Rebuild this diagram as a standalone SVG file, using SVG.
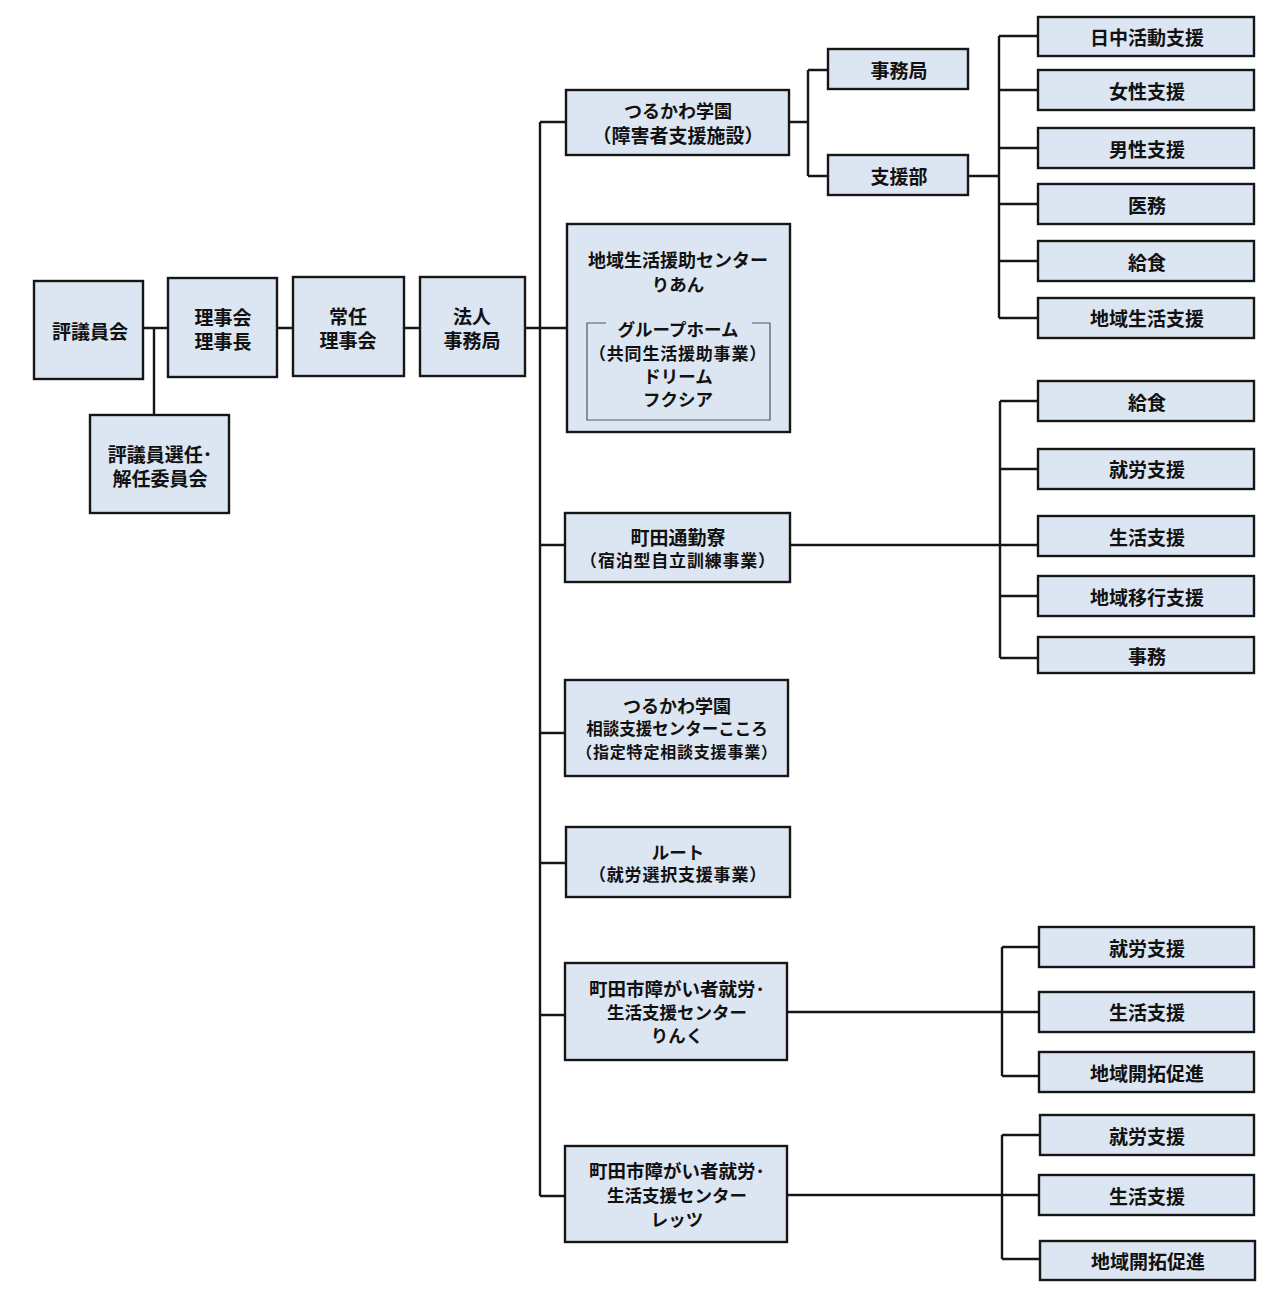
<svg xmlns="http://www.w3.org/2000/svg" width="1264" height="1306" viewBox="0 0 1264 1306">
<style>
.b{fill:#dce6f2;stroke:#161616;stroke-width:2.4}
.t{font-family:"Noto Sans CJK JP","Noto Sans CJK SC",sans-serif;font-weight:bold;font-size:19px;fill:#111;text-anchor:middle;dominant-baseline:central}
.k{font-size:17.5px}
.s{font-size:17px;letter-spacing:0.8px}
.c{fill:none;stroke:#161616;stroke-width:2.4}
.in{fill:none;stroke:#555;stroke-width:1.2}
</style>
<rect width="1264" height="1306" fill="#fff"/>
<g id="connectors">
<path class="c" d="M143 328H168M154 328V415M277 328H293M404 328H420M525 328H566"/>
<path class="c" d="M540 122V1196M540 122H566M540 545H565M540 733H565M540 863H566M540 1015H565M540 1196H565"/>
<path class="c" d="M789 122H808M808 70V176M808 70H828M808 176H828"/>
<path class="c" d="M968 176H999M999 36V318M999 36H1038M999 90H1038M999 148H1038M999 204H1038M999 261H1038M999 318H1038"/>
<path class="c" d="M790 545H1038M1000 401V658M1000 401H1038M1000 469H1038M1000 596H1038M1000 658H1038"/>
<path class="c" d="M787 1012H1039M1002 947V1076M1002 947H1039M1002 1076H1039"/>
<path class="c" d="M787 1195H1039M1002 1135V1259M1002 1135H1040M1002 1259H1040"/>
</g>
<g id="n_hyogiinkai"><rect class="b" x="34" y="281" width="109" height="98"/><text class="t" x="90" y="330">評議員会</text></g>
<g id="n_senin"><rect class="b" x="90" y="415" width="139" height="98"/><text class="t" x="160" y="453">評議員選任･</text><text class="t" x="160" y="477">解任委員会</text></g>
<g id="n_rijikai"><rect class="b" x="168" y="278" width="109" height="99"/><text class="t" x="223" y="316">理事会</text><text class="t" x="223" y="340">理事長</text></g>
<g id="n_jonin"><rect class="b" x="293" y="277" width="111" height="99"/><text class="t" x="348" y="315">常任</text><text class="t" x="348" y="339">理事会</text></g>
<g id="n_hojin"><rect class="b" x="420" y="277" width="105" height="99"/><text class="t" x="472" y="315">法人</text><text class="t" x="472" y="339">事務局</text></g>
<g id="n_tsurukawa"><rect class="b" x="566" y="90" width="223" height="65"/><text class="t" x="678" y="110" style="font-size:18px">つるかわ学園</text><text class="t" x="678" y="134">（障害者支援施設）</text></g>
<g id="n_jimukyoku"><rect class="b" x="828" y="49" width="140" height="40"/><text class="t" x="899" y="69">事務局</text></g>
<g id="n_shienbu"><rect class="b" x="828" y="155" width="140" height="40"/><text class="t" x="899" y="175">支援部</text></g>
<g id="n_a1"><rect class="b" x="1038" y="17" width="216" height="39"/><text class="t" x="1147" y="36">日中活動支援</text></g>
<g id="n_a2"><rect class="b" x="1038" y="70" width="216" height="40"/><text class="t" x="1147" y="90">女性支援</text></g>
<g id="n_a3"><rect class="b" x="1038" y="128" width="216" height="40"/><text class="t" x="1147" y="148">男性支援</text></g>
<g id="n_a4"><rect class="b" x="1038" y="184" width="216" height="40"/><text class="t" x="1147" y="204">医務</text></g>
<g id="n_a5"><rect class="b" x="1038" y="241" width="216" height="40"/><text class="t" x="1147" y="261">給食</text></g>
<g id="n_a6"><rect class="b" x="1038" y="298" width="216" height="40"/><text class="t" x="1147" y="317">地域生活支援</text></g>
<g id="n_rian"><rect class="b" x="567" y="224" width="223" height="208"/><text class="t" x="678" y="259" style="font-size:18px">地域生活援助センター</text><text class="t k" x="678" y="283">りあん</text>
<path class="in" d="M606 323H587V420H770V323H752"/>
<text class="t k" x="678" y="328">グループホーム</text><text class="t s" x="678" y="352">（共同生活援助事業）</text><text class="t k" x="678" y="375">ドリーム</text><text class="t k" x="678" y="398">フクシア</text></g>
<g id="n_machida"><rect class="b" x="565" y="513" width="225" height="69"/><text class="t" x="678" y="536">町田通勤寮</text><text class="t s" x="678" y="559">（宿泊型自立訓練事業）</text></g>
<g id="n_b1"><rect class="b" x="1038" y="381" width="216" height="40"/><text class="t" x="1147" y="401">給食</text></g>
<g id="n_b2"><rect class="b" x="1038" y="449" width="216" height="40"/><text class="t" x="1147" y="468">就労支援</text></g>
<g id="n_b3"><rect class="b" x="1038" y="516" width="216" height="40"/><text class="t" x="1147" y="536">生活支援</text></g>
<g id="n_b4"><rect class="b" x="1038" y="576" width="216" height="40"/><text class="t" x="1147" y="596">地域移行支援</text></g>
<g id="n_b5"><rect class="b" x="1038" y="637" width="216" height="36"/><text class="t" x="1147" y="655">事務</text></g>
<g id="n_kokoro"><rect class="b" x="565" y="680" width="223" height="96"/><text class="t" x="677" y="705" style="font-size:18px">つるかわ学園</text><text class="t" x="677" y="728" style="font-size:16.5px">相談支援センターこころ</text><text class="t s" x="677" y="751" style="font-size:16px">（指定特定相談支援事業）</text></g>
<g id="n_route"><rect class="b" x="566" y="827" width="224" height="70"/><text class="t k" x="678" y="851">ルート</text><text class="t s" x="678" y="873">（就労選択支援事業）</text></g>
<g id="n_rinku"><rect class="b" x="565" y="963" width="222" height="97"/><text class="t" x="677" y="988" style="font-size:18.5px">町田市障がい者就労･</text><text class="t k" x="677" y="1011">生活支援センター</text><text class="t k" x="677" y="1034">りんく</text></g>
<g id="n_c1"><rect class="b" x="1039" y="927" width="215" height="40"/><text class="t" x="1147" y="947">就労支援</text></g>
<g id="n_c2"><rect class="b" x="1039" y="992" width="215" height="40"/><text class="t" x="1147" y="1011">生活支援</text></g>
<g id="n_c3"><rect class="b" x="1039" y="1052" width="215" height="40"/><text class="t" x="1147" y="1072">地域開拓促進</text></g>
<g id="n_lets"><rect class="b" x="565" y="1146" width="222" height="96"/><text class="t" x="677" y="1170" style="font-size:18.5px">町田市障がい者就労･</text><text class="t k" x="677" y="1194">生活支援センター</text><text class="t k" x="677" y="1218">レッツ</text></g>
<g id="n_d1"><rect class="b" x="1040" y="1115" width="214" height="40"/><text class="t" x="1147" y="1135">就労支援</text></g>
<g id="n_d2"><rect class="b" x="1039" y="1175" width="215" height="40"/><text class="t" x="1147" y="1195">生活支援</text></g>
<g id="n_d3"><rect class="b" x="1040" y="1241" width="215" height="39"/><text class="t" x="1148" y="1260">地域開拓促進</text></g>
</svg>
